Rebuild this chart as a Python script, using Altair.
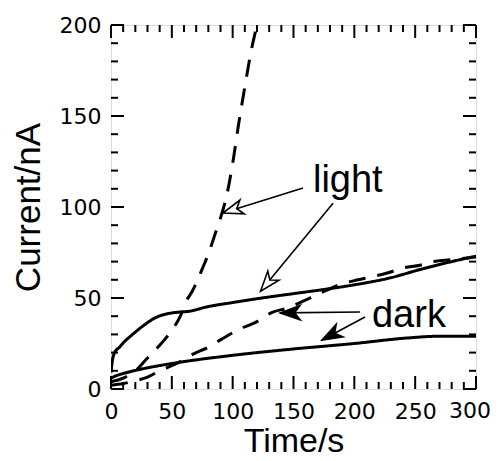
import math
import altair as alt
import pandas as pd

# ---------------- data ----------------
light_solid_t = [0, 1, 3, 7, 11, 16, 22, 29, 36, 43, 50, 57, 63, 80, 100, 122, 150, 172, 196, 229, 256, 280, 300]
light_solid_i = [9, 15, 20, 23, 26, 29, 32.4, 36, 39, 40.8, 41.8, 42.3, 42.6, 45.3, 47.5, 49.8, 52.4, 54.4, 56.8, 61, 66, 70, 73]

light_dash_t = [0, 10, 20, 30, 40, 48.5, 57, 62.5, 67, 75, 81, 85, 90, 95, 100, 105, 110, 115, 120]
light_dash_i = [4, 6, 10, 17, 24, 31, 40, 49, 54, 66, 76, 84, 94, 106, 124, 146, 166, 185, 200]

dark_solid_t = [0, 5, 10, 22, 50, 100, 150, 200, 243, 270, 300]
dark_solid_i = [6, 7.5, 8.5, 10.5, 14, 18.5, 22, 25, 28, 29, 29]

dark_dash_t = [0, 10, 20, 30, 40, 54, 67, 80, 90, 104, 120, 132, 145, 157, 172, 191, 203, 213, 227, 240, 254, 265, 279, 300]
dark_dash_i = [2, 3, 4.5, 6.5, 10, 14, 19, 23, 27, 32.4, 37, 42, 44.5, 48, 52.7, 58, 60, 61.5, 63.7, 66.5, 68, 70, 71, 72.5]

x_major = [0, 50, 100, 150, 200, 250, 300]
x_minor = [v for v in range(0, 301, 10) if v % 50 != 0]
y_major = [0, 50, 100, 150, 200]
y_minor = [v for v in range(0, 201, 10) if v % 50 != 0]
x_last_label = [300]

labels_text = ["light", "dark"]
labels_t = [166, 214.5]
labels_i = [108, 34]

# arrows: start (x, y) -> tip (x2, y2), open or filled head
arrow_x = [157.8, 182.5, 204.7, 208.8]
arrow_y = [110.5, 102.0, 42.3, 39.6]
arrow_x2 = [92.0, 123.0, 139.0, 173.4]
arrow_y2 = [96.7, 53.8, 41.8, 26.9]
arrow_open = [True, True, False, False]

# ---------------- layout ----------------
W, H = 365, 364
FONT = "Liberation Sans"
LFONT = "DejaVu Sans"
LSIZE = 22
LPAD = 12
RIGHT_PAD = 16

xs = alt.Scale(domain=[0, 300], nice=False, zero=False)
ys = alt.Scale(domain=[0, 200], nice=False, zero=False)

curves = pd.concat([
    pd.DataFrame({"t": light_solid_t, "i": light_solid_i, "s": "light_solid", "dash": "solid"}),
    pd.DataFrame({"t": light_dash_t, "i": light_dash_i, "s": "light_dash", "dash": "dash"}),
    pd.DataFrame({"t": dark_solid_t, "i": dark_solid_i, "s": "dark_solid", "dash": "solid"}),
    pd.DataFrame({"t": dark_dash_t, "i": dark_dash_i, "s": "dark_dash", "dash": "dash"}),
])

x_axis = alt.Axis(values=[v for v in x_major if v not in x_last_label], ticks=False, tickSize=0,
                  domain=False, grid=False,
                  labelFont=LFONT, labelFontSize=LSIZE, labelColor="black", labelPadding=LPAD,
                  labelFlush=False, title="Time/s", titleFont=FONT, titleFontSize=34,
                  titleFontWeight="normal", titleColor="black",
                  titleBaseline="alphabetic", titleY=62)
y_axis = alt.Axis(values=y_major, ticks=False, tickSize=0, domain=False, grid=False,
                  labelFont=LFONT, labelFontSize=LSIZE, labelColor="black", labelPadding=10,
                  labelFlush=False, title="Current/nA", titleFont=FONT, titleFontSize=35,
                  titleFontWeight="normal", titleColor="black", titlePadding=13)


def X(field):
    return alt.X(field, scale=xs, axis=x_axis, title="Time/s")


def Y(field):
    return alt.Y(field, scale=ys, axis=y_axis, title="Current/nA")


lines = alt.Chart(curves).mark_line(color="black", strokeWidth=3, interpolate="monotone", clip=True).encode(
    x=X("t:Q"),
    y=Y("i:Q"),
    detail="s:N",
    strokeDash=alt.StrokeDash("dash:N", scale=alt.Scale(domain=["solid", "dash"], range=[[1, 0], [17, 12]]), legend=None),
)


def tick_layer(vals, orient, length):
    df = pd.DataFrame({"v": vals})
    base = alt.Chart(df).mark_rule(color="black", strokeWidth=2)
    if orient == "left":
        return base.encode(y=Y("v:Q"), x=alt.value(0), x2=alt.value(length))
    if orient == "right":
        return base.encode(y=Y("v:Q"), x=alt.value(W), x2=alt.value(W - length))
    if orient == "top":
        return base.encode(x=X("v:Q"), y=alt.value(0), y2=alt.value(length))
    return base.encode(x=X("v:Q"), y=alt.value(H), y2=alt.value(H - length))


ticks = []
for o in ["left", "right"]:
    ticks.append(tick_layer(y_major, o, 13))
    ticks.append(tick_layer(y_minor, o, 7))
for o in ["top", "bottom"]:
    ticks.append(tick_layer(x_major, o, 13))
    ticks.append(tick_layer(x_minor, o, 7))

# last x label, kept inside the page
last_lab = alt.Chart(pd.DataFrame({"v": x_last_label, "s": [str(v) for v in x_last_label]})).mark_text(
    align="right", baseline="top", font=LFONT, fontSize=LSIZE, color="black", dx=RIGHT_PAD - 1
).encode(x=X("v:Q"), y=alt.value(H + LPAD), text="s:N")

# arrows
angles = []
for x1, y1, x2, y2 in zip(arrow_x, arrow_y, arrow_x2, arrow_y2):
    dx = (x2 - x1) * W / 300.0
    dy = -(y2 - y1) * H / 200.0
    angles.append(math.degrees(math.atan2(dx, -dy)) % 360)

arr = pd.DataFrame({"x": arrow_x, "y": arrow_y, "x2": arrow_x2, "y2": arrow_y2,
                    "open": ["open" if o else "filled" for o in arrow_open], "angle": angles})

shafts = alt.Chart(arr).mark_rule(color="black", strokeWidth=1.6).encode(
    x=X("x:Q"), y=Y("y:Q"), x2="x2:Q", y2="y2:Q",
)

HEAD = "M0,0L0.36,1L0,0.72L-0.36,1Z"
heads = alt.Chart(arr).mark_point(shape=HEAD, filled=True, stroke="black", strokeWidth=1.6,
                                  size=1600, opacity=1).encode(
    x=X("x2:Q"), y=Y("y2:Q"),
    angle=alt.Angle("angle:Q", scale=None),
    fill=alt.Fill("open:N", scale=alt.Scale(domain=["open", "filled"], range=["white", "black"]), legend=None),
)

txt = alt.Chart(pd.DataFrame({"label": labels_text, "t": labels_t, "i": labels_i})).mark_text(
    align="left", baseline="alphabetic", font=FONT, fontSize=38, color="black"
).encode(
    x=X("t:Q"), y=Y("i:Q"), text="label:N"
)

chart = alt.layer(*ticks, lines, shafts, heads, txt, last_lab).properties(
    width=W, height=H,
    autosize=alt.AutoSizeParams(type="none"),
    padding={"left": 103, "top": 17, "right": RIGHT_PAD, "bottom": 64},
).configure_view(stroke="black", strokeWidth=3).configure(background="white")

chart.save("out.html", embed_options={"renderer": "svg", "actions": False})
